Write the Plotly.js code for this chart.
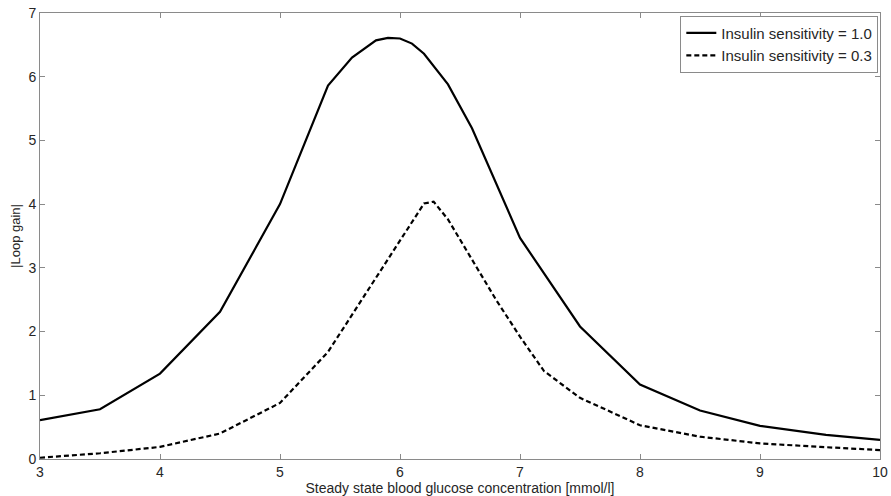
<!DOCTYPE html>
<html>
<head>
<meta charset="utf-8">
<script src="https://cdn.plot.ly/plotly-3.0.1.min.js"></script>
<style>html,body{margin:0;padding:0;background:#fff;}#chart{width:891px;height:496px;}</style>
</head>
<body>
<div id="chart"></div>
<script>
// Data
const seriesNames = ["Insulin sensitivity = 1.0", "Insulin sensitivity = 0.3"];
const glucoseHigh = [3, 3.5, 4, 4.5, 5, 5.4, 5.6, 5.8, 5.9, 6.0, 6.1, 6.2, 6.4, 6.6, 7.0, 7.5, 8, 8.5, 9, 9.55, 10];
const gainHigh    = [0.61, 0.78, 1.34, 2.31, 4.0, 5.86, 6.3, 6.57, 6.61, 6.6, 6.52, 6.36, 5.88, 5.19, 3.47, 2.08, 1.17, 0.76, 0.52, 0.38, 0.30];
const glucoseLow  = [3, 3.5, 4, 4.5, 5, 5.4, 6.2, 6.28, 6.4, 6.6, 6.8, 7.0, 7.2, 7.5, 8, 8.5, 9, 9.5, 10];
const gainLow     = [0.02, 0.09, 0.19, 0.40, 0.88, 1.68, 4.01, 4.04, 3.76, 3.14, 2.5, 1.92, 1.38, 0.96, 0.53, 0.35, 0.245, 0.19, 0.14];
const xTicks = [3, 4, 5, 6, 7, 8, 9, 10];
const yTicks = [0, 1, 2, 3, 4, 5, 6, 7];

const axisColor = "#8a8a8a";
const textColor = "#262626";
const fontFam = "Liberation Sans, Arial, sans-serif";

const traces = [
  {x: glucoseHigh, y: gainHigh, name: seriesNames[0], type: "scatter", mode: "lines",
   line: {color: "#000", width: 2.2}},
  {x: glucoseLow, y: gainLow, name: seriesNames[1], type: "scatter", mode: "lines",
   line: {color: "#000", width: 2.2, dash: "5px,3px"}}
];

const layout = {
  width: 891, height: 496,
  margin: {l: 40, r: 11, t: 12.5, b: 37},
  paper_bgcolor: "#fff", plot_bgcolor: "#fff",
  font: {family: fontFam, size: 14, color: textColor},
  showlegend: true,
  legend: {x: 0.998, y: 0.994, xanchor: "right", yanchor: "top",
    bgcolor: "#fff", bordercolor: axisColor, borderwidth: 1,
    font: {family: fontFam, size: 15, color: textColor},
    tracegroupgap: 0, itemwidth: 30},
  xaxis: {range: [3, 10], tickvals: xTicks, ticktext: xTicks.map(String),
    ticks: "inside", ticklen: 5, tickcolor: axisColor, showline: true, linecolor: axisColor,
    linewidth: 1, mirror: "ticks", showgrid: false, zeroline: false,
    tickfont: {size: 14, color: textColor},
    title: {text: "Steady state blood glucose concentration [mmol/l]", standoff: 0,
      font: {size: 14, color: textColor}}},
  yaxis: {range: [0, 7], tickvals: yTicks, ticktext: yTicks.map(String),
    ticks: "inside", ticklen: 5, tickcolor: axisColor, showline: true, linecolor: axisColor,
    linewidth: 1, mirror: "ticks", showgrid: false, zeroline: false,
    tickfont: {size: 14, color: textColor},
    title: {text: "|Loop gain|", standoff: 4, font: {size: 13, color: textColor}}}
};

Plotly.newPlot("chart", traces, layout, {staticPlot: true, displayModeBar: false});
</script>
</body>
</html>
